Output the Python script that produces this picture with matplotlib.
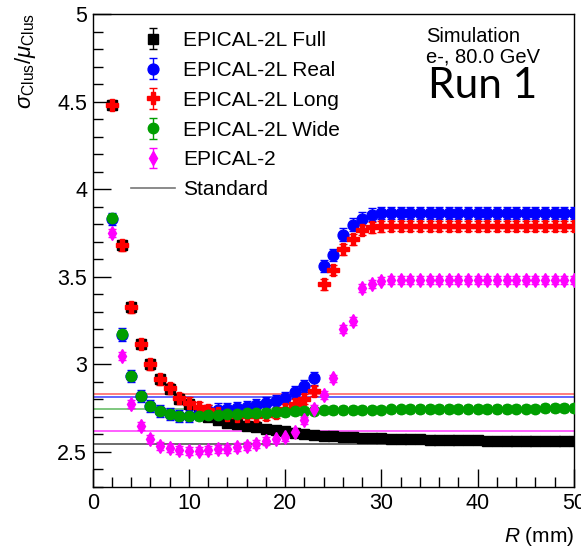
import matplotlib
matplotlib.use("Agg")
import matplotlib.pyplot as plt
from matplotlib.ticker import MultipleLocator
from matplotlib.lines import Line2D

plt.rcParams['font.family'] = ['Liberation Sans', 'DejaVu Sans']
plt.rcParams['mathtext.fontset'] = 'custom'
plt.rcParams['mathtext.rm'] = 'Liberation Sans'
plt.rcParams['mathtext.it'] = 'Liberation Sans:italic'

r_mm = [2, 3, 4, 5, 6, 7, 8, 9, 10, 11, 12, 13, 14, 15, 16, 17, 18, 19, 20, 21,
        22, 23, 24, 25, 26, 27, 28, 29, 30, 31, 32, 33, 34, 35, 36, 37, 38, 39, 40,
        41, 42, 43, 44, 45, 46, 47, 48, 49, 50]

full = [4.48, 3.68, 3.325, 3.118, 3.00, 2.915, 2.862, 2.805, 2.772, 2.735, 2.700,
        2.680, 2.668, 2.658, 2.648, 2.640, 2.632, 2.625, 2.618, 2.611, 2.604, 2.598,
        2.593, 2.589, 2.586, 2.583, 2.581, 2.579, 2.577, 2.576, 2.575, 2.573, 2.572,
        2.571, 2.570, 2.569, 2.568, 2.567, 2.566, 2.565, 2.565, 2.564, 2.563, 2.563,
        2.562, 2.562, 2.561, 2.561, 2.560]

real = [3.83, 3.17, 2.933, 2.818, 2.762, 2.732, 2.715, 2.705, 2.706, 2.716, 2.735,
        2.742, 2.747, 2.752, 2.758, 2.768, 2.780, 2.792, 2.808, 2.843, 2.878, 2.920,
        3.560, 3.623, 3.741, 3.798, 3.832, 3.855, 3.863, 3.865, 3.866, 3.865, 3.866,
        3.865, 3.866, 3.865, 3.866, 3.865, 3.866, 3.865, 3.866, 3.865, 3.866, 3.865,
        3.866, 3.865, 3.866, 3.865, 3.866]

long_ = [4.48, 3.68, 3.325, 3.116, 3.00, 2.914, 2.863, 2.806, 2.781, 2.758, 2.738,
         2.722, 2.712, 2.708, 2.705, 2.706, 2.712, 2.722, 2.745, 2.772, 2.802, 2.847,
         3.456, 3.538, 3.656, 3.713, 3.766, 3.782, 3.788, 3.790, 3.790, 3.791, 3.790,
         3.790, 3.791, 3.790, 3.790, 3.791, 3.790, 3.790, 3.791, 3.790, 3.790, 3.791,
         3.790, 3.790, 3.791, 3.790, 3.790]

wide = [3.835, 3.175, 2.935, 2.820, 2.765, 2.735, 2.718, 2.707, 2.705, 2.707, 2.710,
        2.712, 2.715, 2.717, 2.720, 2.722, 2.725, 2.727, 2.730, 2.732, 2.734, 2.736,
        2.737, 2.738, 2.739, 2.740, 2.741, 2.742, 2.742, 2.743, 2.743, 2.744, 2.744,
        2.745, 2.745, 2.745, 2.746, 2.746, 2.746, 2.747, 2.747, 2.747, 2.748, 2.748,
        2.748, 2.749, 2.749, 2.749, 2.750]

epical2 = [3.75, 3.047, 2.772, 2.648, 2.574, 2.534, 2.521, 2.511, 2.506, 2.508, 2.513,
           2.515, 2.517, 2.527, 2.534, 2.546, 2.564, 2.572, 2.587, 2.616, 2.680, 2.745,
           2.825, 2.920, 3.200, 3.249, 3.437, 3.458, 3.478, 3.480, 3.480, 3.481, 3.480,
           3.480, 3.481, 3.480, 3.480, 3.481, 3.480, 3.480, 3.481, 3.480, 3.480, 3.481,
           3.480, 3.480, 3.481, 3.480, 3.480]

series_labels = ["EPICAL-2L Full", "EPICAL-2L Real", "EPICAL-2L Long",
                 "EPICAL-2L Wide", "EPICAL-2"]
series_errors = [0.010, 0.035, 0.030, 0.022, 0.022]
standard_values = [2.546, 2.812, 2.831, 2.745, 2.620]

fig = plt.figure(figsize=(5.81, 5.51), dpi=100)
ax = fig.add_axes([92.7 / 581, 1 - 487 / 551, (574 - 92.7) / 581, (487 - 14) / 551])

series = [full, real, long_, wide, epical2]
colors = ['#000000', '#0000ff', '#ff0000', '#009e00', '#ff00ff']
line_colors = ['#444444', '#3a3aff', '#ff5a5a', '#5cb85c', '#ff33ff']
markers = ['s', 'o', 'P', 'o', 'd']
msizes = [6.5, 7.8, 8.5, 7.5, 7.0]

handles = []
for vals, err, lab, c, m, ms in zip(series, series_errors, series_labels,
                                     colors, markers, msizes):
    h = ax.errorbar(r_mm, vals, yerr=err, fmt=m, color=c, ecolor=c, ms=ms,
                    mec=c, mfc=c, elinewidth=1.0, capsize=3, capthick=1.0,
                    label=lab, zorder=3)
    handles.append(h)

for v, lc in zip(standard_values, line_colors):
    ax.axhline(v, color=lc, lw=1.1, zorder=2)

std_handle = Line2D([], [], color='#777777', lw=1.2)
handles.append(std_handle)
labels = series_labels + ["Standard"]

ax.set_xlim(0, 50)
ax.set_ylim(2.3, 5.0)
ax.xaxis.set_major_locator(MultipleLocator(10))
ax.xaxis.set_minor_locator(MultipleLocator(2))
ax.yaxis.set_major_locator(MultipleLocator(0.5))
ax.yaxis.set_minor_locator(MultipleLocator(0.1))
ax.tick_params(which='both', direction='in', top=False, right=False,
               labelsize=15.5, width=1.0)
ax.tick_params(which='major', length=13, pad=4)
ax.tick_params(which='minor', length=7)
ax.set_yticks([2.5, 3, 3.5, 4, 4.5, 5])
ax.set_yticklabels(['2.5', '3', '3.5', '4', '4.5', '5'])
for s in ax.spines.values():
    s.set_linewidth(1.0)

leg = ax.legend(handles, labels, loc='upper left',
                bbox_to_anchor=((131 - 92.7) / (574 - 92.7), 1 - (31 - 14) / 473),
                frameon=False, fontsize=15, handlelength=2.1, handletextpad=0.4,
                borderpad=0, borderaxespad=0, labelspacing=0.52)

fig.text(426 / 581, 1 - 37 / 551, "Simulation", fontsize=14.5, ha='left', va='center')
fig.text(426 / 581, 1 - 57 / 551, "e-, 80.0 GeV", fontsize=14.5, ha='left', va='center')
fig.text(428 / 581, 1 - 86 / 551, "Run 1", fontsize=30.5, ha='left', va='center',
         family=['Lato', 'DejaVu Sans'])

fig.text(26 / 581, 1 - 13 / 551, r'$\sigma_{\rm Clus}/\mu_{\rm Clus}$', fontsize=16,
         rotation=90, ha='center', va='top')
fig.text(574 / 581, 1 - 537 / 551, r'$R$ (mm)', fontsize=15, ha='right', va='center')

fig.savefig("out.png", dpi=100)
